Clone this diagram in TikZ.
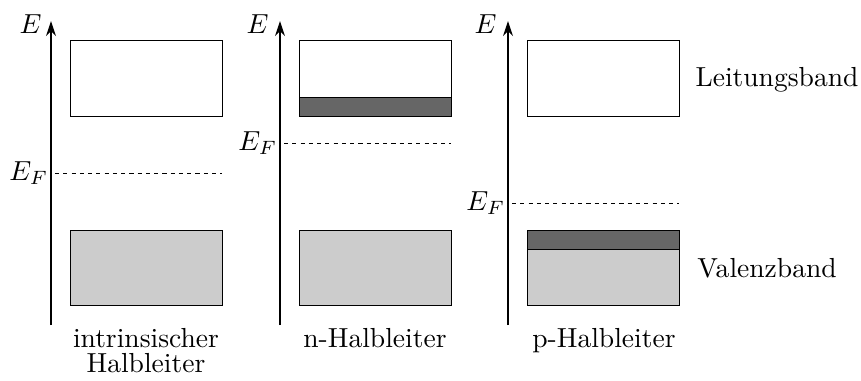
\documentclass[tikz,border=0pt]{standalone}
\usetikzlibrary{arrows.meta}
\begin{document}
\begin{tikzpicture}[x=0.363pt,y=-0.363pt,
  axis/.style={line width=0.4pt,-{Stealth[length=5.5pt,width=3.6pt,inset=1.8pt]}},
  band/.style={draw=black,line width=0.35pt},
  cond/.style={band,fill=white},
  val/.style={band,fill=black!20},
  dope/.style={band,fill=black!60},
  fermi/.style={line width=0.35pt,dash pattern=on 1.5pt off 1.5pt},
  elbl/.style={inner sep=0pt,anchor=base east},
  efl/.style={inner sep=0.5pt,anchor=east},
  captext/.style={anchor=base,inner sep=0pt,align=center},
  side/.style={anchor=base,inner sep=0pt}]
\useasboundingbox (0,0) rectangle (861,380);
% ---------- panel 1: intrinsic ----------
\coordinate (a1b) at (51,325); \coordinate (a1t) at (51,21);
\draw[axis] (a1b) -- (a1t);
\node[elbl] (E1) at (42,33) {$E$};
\draw[cond] (70,40) rectangle (222,116);
\draw[val] (70,230) rectangle (222,305);
\coordinate (f1s) at (55,173); \coordinate (f1e) at (222,173);
\draw[fermi] (f1s) -- (f1e);
\node[efl] (EF1) at (50,173) {$E_F$};
\node[captext] (c1) at (146,372) {intrinsischer\\[-3pt]Halbleiter};
% ---------- panel 2: n-type ----------
\coordinate (a2b) at (280,325); \coordinate (a2t) at (280,21);
\draw[axis] (a2b) -- (a2t);
\node[elbl] (E2) at (269,33) {$E$};
\draw[cond] (299,40) rectangle (451,116);
\draw[dope] (299,97) rectangle (451,116);
\draw[val] (299,230) rectangle (451,305);
\coordinate (f2s) at (284,143); \coordinate (f2e) at (451,143);
\draw[fermi] (f2s) -- (f2e);
\node[efl] (EF2) at (279,143) {$E_F$};
\node[captext] (c2) at (375,347) {n-Halbleiter};
% ---------- panel 3: p-type ----------
\coordinate (a3b) at (508,325); \coordinate (a3t) at (508,21);
\draw[axis] (a3b) -- (a3t);
\node[elbl] (E3) at (497,33) {$E$};
\draw[cond] (527,40) rectangle (679,116);
\draw[val] (527,230) rectangle (679,305);
\draw[dope] (527,230) rectangle (679,249);
\coordinate (f3s) at (512,203); \coordinate (f3e) at (679,203);
\draw[fermi] (f3s) -- (f3e);
\node[efl] (EF3) at (507,203) {$E_F$};
\node[captext] (c3) at (604,347) {p-Halbleiter};
% ---------- band names ----------
\node[side] (lb) at (777,86) {Leitungsband};
\node[side] (vb) at (767,277) {Valenzband};
\end{tikzpicture}
\end{document}
